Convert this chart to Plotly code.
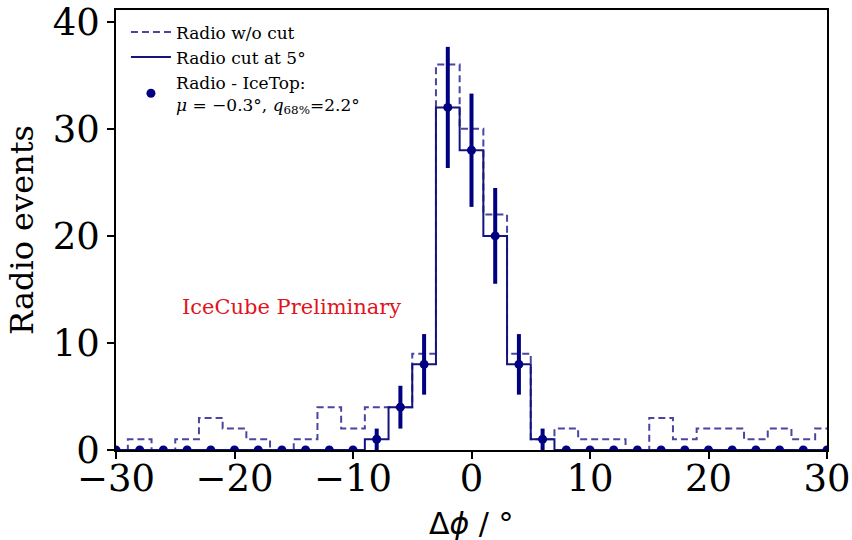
import numpy as np
import plotly.graph_objects as go

# bin centres (deg), width 2
centers = list(range(-30, 31, 2))
# Radio w/o cut counts
counts_nocut = [0, 1, 0, 1, 3, 2, 1, 0, 1, 4, 2, 4, 4, 9, 36, 30, 22, 9, 1, 2, 1, 1, 0, 3, 1, 2, 2, 1, 2, 1, 2]
# Radio cut at 5 deg counts
counts_cut = [0, 0, 0, 0, 0, 0, 0, 0, 0, 0, 0, 1, 4, 8, 32, 28, 20, 8, 1, 0, 0, 0, 0, 0, 0, 0, 0, 0, 0, 0, 0]

bw = 2.0
edges = [c - bw / 2 for c in centers] + [centers[-1] + bw / 2]


def step_xy(vals):
    xs = [edges[0]] + edges + [edges[-1]]
    ys = [0] + list(vals) + [vals[-1], 0]
    return xs, ys


serif = "DejaVu Serif"
c_dash = "#4a45a0"
c_solid = "#14147d"
c_err = "#000080"

fig = go.Figure()
x1, y1 = step_xy(counts_nocut)
fig.add_trace(go.Scatter(x=x1, y=y1, mode="lines", line=dict(shape="hv", color=c_dash, width=2, dash="7px,4px"),
                         name="Radio w/o cut"))
x2, y2 = step_xy(counts_cut)
fig.add_trace(go.Scatter(x=x2, y=y2, mode="lines", line=dict(shape="hv", color=c_solid, width=2),
                         name="Radio cut at 5°"))
err = [float(np.sqrt(v)) for v in counts_cut]
fig.add_trace(go.Scatter(x=centers, y=counts_cut, mode="markers",
                         marker=dict(color=c_err, size=9),
                         error_y=dict(type="data", array=err, visible=True, color=c_err, thickness=4, width=0),
                         name="Radio - IceTop:<br><i>μ</i> = −0.3°, <i>q</i><sub>68%</sub>=2.2°"))

fig.add_annotation(x=-24.6, y=13.4, xref="x", yref="y", text="IceCube Preliminary", showarrow=False,
                   xanchor="left", yanchor="middle", font=dict(family=serif, size=21, color="#e0141c"))
fig.add_annotation(x=0.5, y=-0.166, xref="paper", yref="paper", text="Δ<i>ϕ</i> / °", showarrow=False,
                   xanchor="center", yanchor="middle", font=dict(family="DejaVu Sans", size=30, color="black"))

fig.update_layout(
    width=852, height=540, margin=dict(l=116, r=25, t=10, b=90, autoexpand=False),
    plot_bgcolor="white", paper_bgcolor="white",
    font=dict(family=serif, color="black"),
    legend=dict(x=0.014, y=0.99, xanchor="left", yanchor="top", bgcolor="rgba(255,255,255,0.8)",
                font=dict(family=serif, size=17, color="black"), tracegroupgap=0, itemwidth=40),
    showlegend=True,
)
fig.update_xaxes(range=[-30, 30], tickvals=[-30, -20, -10, 0, 10, 20, 30], ticks="outside", ticklen=7,
                 tickwidth=1.5, tickcolor="black", showline=True, linecolor="black", linewidth=1.5, mirror=True,
                 showgrid=False, zeroline=False, tickfont=dict(family=serif, size=37), automargin=False,
                 ticklabelstandoff=-12)
fig.update_yaxes(range=[0, 41.1], tickvals=[0, 10, 20, 30, 40], ticks="outside", ticklen=7,
                 tickwidth=1.5, tickcolor="black", showline=True, linecolor="black", linewidth=1.5, mirror=True,
                 showgrid=False, zeroline=False, tickfont=dict(family=serif, size=37), automargin=False,
                 title=dict(text="Radio events", font=dict(family=serif, size=32), standoff=10))

fig.write_html("out.html")
